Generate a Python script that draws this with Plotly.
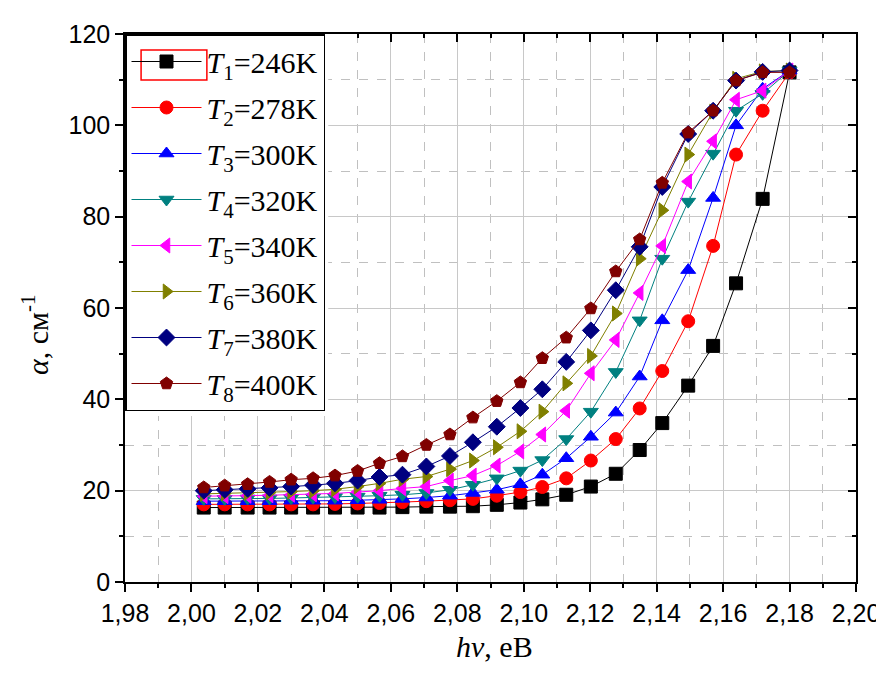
import plotly.graph_objects as go

hv = [2.0037, 2.0100, 2.0169, 2.0235, 2.0300, 2.0366, 2.0432, 2.0500, 2.0566, 2.0635,
      2.0707, 2.0778, 2.0847, 2.0919, 2.0990, 2.1056, 2.1128, 2.1202, 2.1277, 2.1349,
      2.1417, 2.1495, 2.1570, 2.1639, 2.1719, 2.1800]

t1 = [16.3, 16.3, 16.3, 16.3, 16.3, 16.3, 16.3, 16.3, 16.3, 16.4, 16.5, 16.5, 16.6,
      16.9, 17.4, 18.1, 19.1, 20.9, 23.7, 28.9, 34.8, 43.0, 51.7, 65.4, 83.9, 111.6]
t2 = [17.0, 17.0, 17.0, 17.0, 17.0, 17.0, 17.1, 17.2, 17.3, 17.5, 17.7, 17.9, 18.2,
      18.9, 19.7, 20.8, 22.7, 26.6, 31.3, 38.0, 46.2, 57.1, 73.6, 93.6, 103.2, 111.6]
t3 = [17.7, 17.7, 17.7, 17.7, 17.8, 17.8, 17.8, 17.9, 18.0, 18.2, 18.5, 18.9, 19.5,
      20.2, 21.4, 23.5, 27.1, 31.8, 37.1, 45.0, 57.3, 68.3, 84.1, 100.0, 108.0, 112.0]
t4 = [18.2, 18.2, 18.3, 18.3, 18.4, 18.5, 18.6, 18.7, 18.9, 19.1, 19.5, 20.2, 21.3,
      22.7, 24.4, 26.7, 31.3, 37.3, 46.0, 57.3, 70.8, 83.3, 93.8, 103.2, 106.9, 112.0]
t5 = [18.8, 18.8, 18.9, 19.0, 19.1, 19.2, 19.4, 19.7, 20.0, 20.5, 20.9, 22.2, 23.3,
      25.5, 28.6, 32.3, 37.5, 45.7, 53.0, 63.3, 73.6, 87.7, 96.5, 105.6, 107.6, 112.0]
t6 = [19.3, 19.4, 19.5, 19.6, 19.8, 20.0, 20.3, 20.9, 21.6, 22.5, 23.1, 24.7, 26.6,
      29.5, 33.0, 37.3, 43.5, 49.5, 58.8, 70.8, 81.4, 93.6, 103.0, 110.2, 111.8, 112.0]
t7 = [20.0, 20.2, 20.4, 20.6, 20.9, 21.2, 21.6, 22.2, 23.0, 23.5, 25.3, 27.6, 30.6,
      34.0, 38.1, 42.2, 48.2, 55.1, 63.9, 73.4, 86.5, 98.1, 103.2, 109.8, 111.7, 112.0]
t8 = [20.7, 21.1, 21.4, 21.9, 22.4, 22.7, 23.3, 24.3, 26.0, 27.5, 30.0, 32.3, 36.0,
      39.6, 43.7, 49.0, 53.5, 59.9, 68.0, 75.0, 87.4, 98.4, 103.2, 109.8, 111.6, 111.6]

series = [t1, t2, t3, t4, t5, t6, t7, t8]
labels = ["<i>T</i><sub>1</sub>=246K", "<i>T</i><sub>2</sub>=278K", "<i>T</i><sub>3</sub>=300K",
          "<i>T</i><sub>4</sub>=320K", "<i>T</i><sub>5</sub>=340K", "<i>T</i><sub>6</sub>=360K",
          "<i>T</i><sub>7</sub>=380K", "<i>T</i><sub>8</sub>=400K"]
colors = ["#000000", "#FF0000", "#0000FF", "#008080", "#FF00FF", "#808000", "#000080", "#800000"]
symbols = ["square", "circle", "triangle-up", "triangle-down", "triangle-left",
           "triangle-right", "diamond", "pentagon"]

fig = go.Figure()
for i, (ys, name, c, s) in enumerate(zip(series, labels, colors, symbols)):
    fig.add_trace(go.Scatter(
        x=hv, y=ys, name=name, mode="lines+markers",
        line=dict(color=c, width=1),
        marker=dict(symbol=s, size=13, color=c, line=dict(color=c, width=1)),
        legendgroup=f"g{i}",
    ))

# invisible trace for the mirrored (top/right) axes with inward ticks
fig.add_trace(go.Scatter(x=[None], y=[None], xaxis="x2", yaxis="y2",
                         showlegend=False, hoverinfo="skip"))

tickfont = dict(family="Liberation Sans, Arial", size=25, color="black")
titlefont = dict(family="Liberation Serif", size=30, color="black")
fig.update_layout(
    width=884, height=676,
    margin=dict(l=117, r=30, t=25, b=102),
    paper_bgcolor="white", plot_bgcolor="white",
    separators=", ",
    xaxis=dict(range=[1.98, 2.20], tick0=1.98, dtick=0.02, tickformat=".2f",
               showline=True, linecolor="black", linewidth=1.5,
               ticks="outside", ticklen=8, tickwidth=1.5, tickcolor="black",
               tickfont=tickfont,
               showgrid=True, gridcolor="#c8c8c8", gridwidth=1, zeroline=False,
               minor=dict(dtick=0.01, ticks="outside", ticklen=4, tickcolor="black",
                          showgrid=True, gridcolor="#c0c0c0", griddash="dash", gridwidth=1)),
    yaxis=dict(range=[0, 120], tick0=0, dtick=20,
               showline=True, linecolor="black", linewidth=1.5,
               ticks="outside", ticklen=8, tickwidth=1.5, tickcolor="black",
               tickfont=tickfont,
               showgrid=True, gridcolor="#c8c8c8", gridwidth=1, zeroline=False,
               minor=dict(dtick=10, ticks="outside", ticklen=4, tickcolor="black",
                          showgrid=True, gridcolor="#c0c0c0", griddash="dash", gridwidth=1)),
    xaxis2=dict(range=[1.98, 2.20], tick0=1.98, dtick=0.02, overlaying="x", side="top",
                showline=True, linecolor="black", linewidth=1.5, showticklabels=False,
                ticks="inside", ticklen=8, tickwidth=1.5, tickcolor="black",
                showgrid=False, zeroline=False,
                minor=dict(dtick=0.01, ticks="inside", ticklen=4, tickcolor="black", showgrid=False)),
    yaxis2=dict(range=[0, 120], tick0=0, dtick=20, overlaying="y", side="right",
                showline=True, linecolor="black", linewidth=1.5, showticklabels=False,
                ticks="inside", ticklen=8, tickwidth=1.5, tickcolor="black",
                showgrid=False, zeroline=False,
                minor=dict(dtick=10, ticks="inside", ticklen=4, tickcolor="black", showgrid=False)),
    legend=dict(x=0, y=1, xanchor="left", yanchor="top",
                bgcolor="rgba(255,255,255,0)", bordercolor="black", borderwidth=1.5,
                font=dict(family="Liberation Serif", size=30, color="black"),
                tracegroupgap=4, itemwidth=70),
    showlegend=True,
    shapes=[
        # white backing for the legend box (legend itself is transparent so the
        # red selection frame around the first symbol can show through)
        dict(type="rect", xref="paper", yref="paper", layer="above",
             x0=0.002, x1=0.278, y0=0.303, y1=0.997,
             fillcolor="white", line=dict(width=0)),
        dict(type="rect", xref="paper", yref="paper", layer="above",
             x0=0.022, x1=0.112, y0=0.916, y1=0.971,
             fillcolor="rgba(0,0,0,0)", line=dict(color="red", width=1.5)),
    ],
    annotations=[
        dict(text="<i>α</i>, см<sup>-1</sup>", xref="paper", yref="paper",
             x=-0.122, y=0.452, xanchor="center", yanchor="middle", textangle=-90,
             showarrow=False, font=titlefont),
        dict(text="<i>hv</i>, eB", xref="paper", yref="paper",
             x=0.506, y=-0.118, xanchor="center", yanchor="middle",
             showarrow=False, font=titlefont),
    ],
)

fig.write_html("out.html")
